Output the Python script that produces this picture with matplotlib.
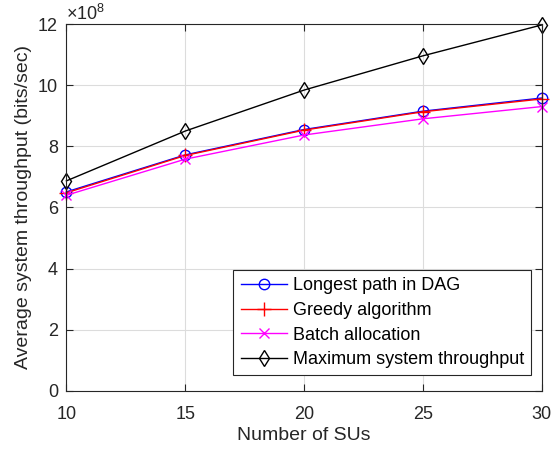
import numpy as np
import matplotlib.pyplot as plt

plt.rcParams['font.family'] = ['Liberation Sans', 'DejaVu Sans']
plt.rcParams['mathtext.fontset'] = 'custom'
plt.rcParams['mathtext.rm'] = 'Liberation Sans'

# data (bits/sec, in units of 1e8)
num_sus = [10, 15, 20, 25, 30]
longest_path = [6.51, 7.72, 8.55, 9.15, 9.58]
greedy = [6.48, 7.70, 8.53, 9.13, 9.55]
batch = [6.40, 7.58, 8.37, 8.90, 9.30]
max_throughput = [6.87, 8.50, 9.84, 10.96, 11.97]
y_ticks = [0, 2, 4, 6, 8, 10, 12]

fig = plt.figure(figsize=(5.58, 4.53), dpi=100)
ax = fig.add_axes([0.119, 0.137, 0.852, 0.810])

ax.plot(num_sus, longest_path, color='blue', marker='o', mfc='none',
        ms=7.5, lw=1.0, label='Longest path in DAG', clip_on=False)
ax.plot(num_sus, greedy, color='red', marker='+', ms=10, lw=1.0,
        label='Greedy algorithm', clip_on=False)
ax.plot(num_sus, batch, color='magenta', marker='x', ms=6.5, lw=1.0,
        label='Batch allocation', clip_on=False)
ax.plot(num_sus, max_throughput, color='black', marker='d', mfc='none',
        ms=8.5, lw=1.0, label='Maximum system throughput', clip_on=False)

ax.set_xlim(10, 30)
ax.set_ylim(0, 12)
ax.set_xticks(num_sus)
ax.set_yticks(y_ticks)
ax.text(0.0, 1.0, r'$\times 10^{8}$', transform=ax.transAxes, fontsize=13,
        color='#262626', va='bottom', ha='left')

ax.grid(True, color='#dcdcdc', lw=0.8)
ax.set_axisbelow(True)
ax.tick_params(direction='in', top=True, right=True, labelsize=13, colors='#262626',
               length=5)
ax.tick_params(axis='x', pad=11)
ax.tick_params(axis='y', pad=6)
for s in ax.spines.values():
    s.set_color('#262626')
    s.set_linewidth(0.8)

ax.set_xlabel('Number of SUs', fontsize=14, color='#262626', labelpad=3)
ax.set_ylabel('Average system throughput (bits/sec)', fontsize=14, color='#262626')

leg = ax.legend(loc='lower right', bbox_to_anchor=(0.997, 0.018), fontsize=13,
                fancybox=False, edgecolor='#262626', framealpha=1,
                handlelength=2.6, borderpad=0.4, labelspacing=0.42, handletextpad=0.3)
leg.get_frame().set_linewidth(0.8)

fig.savefig('out.png', dpi=100)
